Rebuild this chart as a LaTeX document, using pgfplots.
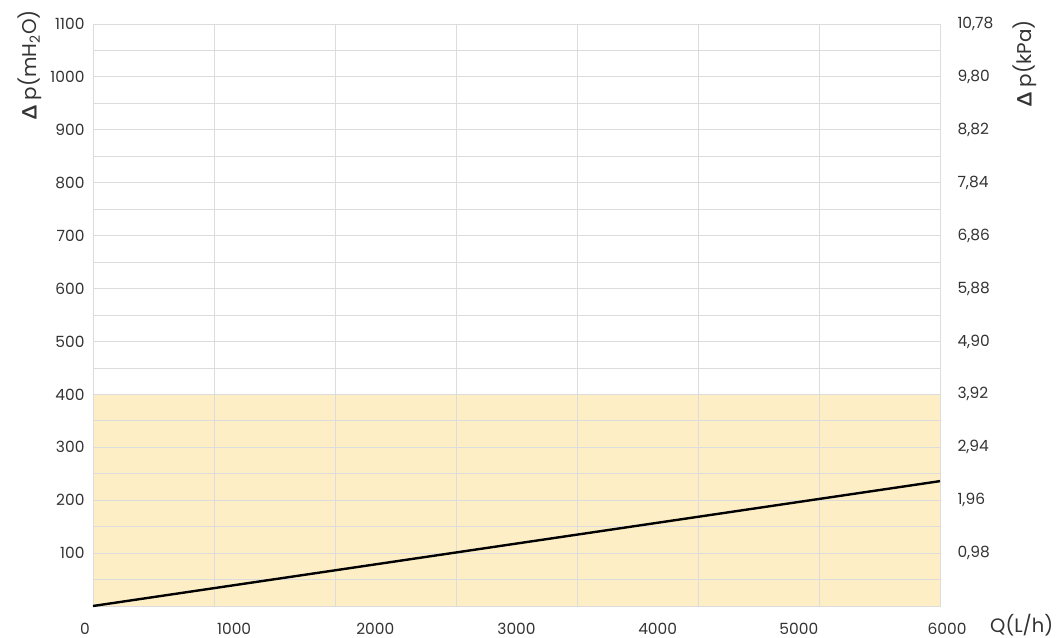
\documentclass[border=0pt]{standalone}
\usepackage{pgfplots}
\pgfplotsset{compat=1.18}
\usepackage{fontspec}
\setmainfont{Poppins}
\newfontfamily\grk{Lato}
\definecolor{gridgray}{HTML}{DCDCDC}
\definecolor{fillyellow}{HTML}{FDEEC6}
\definecolor{txt}{HTML}{333333}
\begin{document}
\begin{tikzpicture}[x=1bp,y=1bp]
\path[use as bounding box] (-93,-32) rectangle (965,606);
\begin{axis}[
  axis on top,
  at={(0,0)}, anchor=south west,
  width=847bp, height=582bp, scale only axis,
  xmin=0, xmax=6000, ymin=0, ymax=1100,
  axis line style={draw=gridgray, line width=0.8bp},
  xtick={0,857.142857,1714.285714,2571.428571,3428.571429,4285.714286,5142.857143,6000},
  xticklabels={},
  extra x ticks={0,1000,2000,3000,4000,5000,6000},
  extra x tick labels={{\hspace*{-16bp}0},1000,2000,3000,4000,5000,{6000\hspace*{-14bp}}},
  extra x tick style={grid=none},
  ytick={100,200,300,400,500,600,700,800,900,1000,1100},
  yticklabels={100,200,300,400,500,600,700,800,900,1000,1100},
  minor ytick={50,150,250,350,450,550,650,750,850,950,1050},
  grid=both,
  major grid style={gridgray, line width=0.8bp},
  minor grid style={gridgray, line width=0.8bp},
  major tick length=0pt, minor tick length=0pt,
  tick style={draw=none},
  /pgf/number format/assume math mode=true,
  tick label style={font=\fontsize{15.5}{18}\selectfont, text=txt},
  yticklabel style={xshift=-5bp},
  xticklabel style={anchor=north, inner sep=0pt, yshift=-17bp},
]
\addplot[draw=none, fill=fillyellow] coordinates {(0,400) (6000,400)} \closedcycle;
\end{axis}
\begin{axis}[
  at={(0,0)}, anchor=south west,
  width=847bp, height=582bp, scale only axis,
  xmin=0, xmax=6000, ymin=0, ymax=1100,
  axis x line=none, axis y line*=right,
  axis line style={draw=none},
  ytick={100,200,300,400,500,600,700,800,900,1000,1100},
  yticklabels={{0,98},{1,96},{2,94},{3,92},{4,90},{5,88},{6,86},{7,84},{8,82},{9,80},{10,78}},
  major tick length=0pt, tick style={draw=none},
  tick label style={font=\fontsize{15.5}{18}\selectfont, text=txt},
  yticklabel style={anchor=west, xshift=14bp},
  clip=false,
]
\addplot[black, line width=2.4bp] coordinates {(0,0) (6000,236)};
\end{axis}
\node[rotate=90, anchor=east, text=txt, font=\fontsize{20}{24}\selectfont, inner sep=0pt] at (-63,596) {{\grk\bfseries Δ} p(mH\textsubscript{2}O)};
\node[rotate=90, anchor=east, text=txt, font=\fontsize{20}{24}\selectfont, inner sep=0pt] at (932,586) {{\grk\bfseries Δ} p(kPa)};
\node[anchor=west, text=txt, font=\fontsize{19.5}{22}\selectfont, inner sep=0pt] at (897,-19) {Q(L/h)};
\end{tikzpicture}
\end{document}
